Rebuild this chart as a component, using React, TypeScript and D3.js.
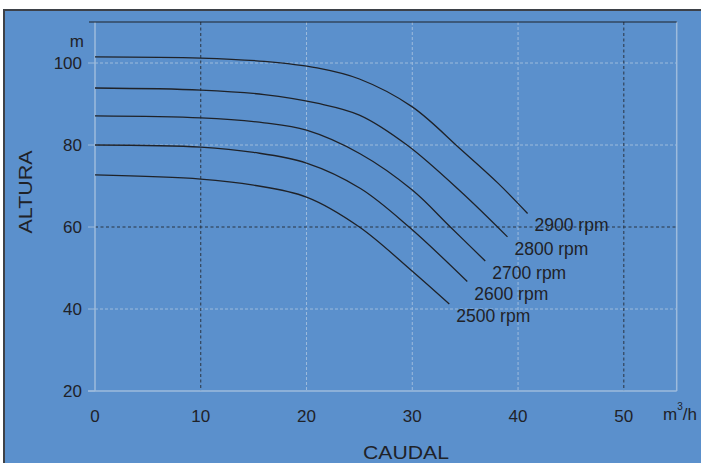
import React from "react";
import * as d3 from "d3";

const xTicks = [0, 10, 20, 30, 40, 50];
const yTicks = [20, 40, 60, 80, 100];
const darkX = [10, 50];
const darkY = [60];

const seriesNames = ["2900 rpm", "2800 rpm", "2700 rpm", "2600 rpm", "2500 rpm"];
const q2900 = [0, 10, 16, 21, 25, 30, 34.6, 38.1, 40.9];
const h2900 = [101.5, 101.2, 100.4, 98.8, 96.1, 89.3, 78.9, 70.7, 63.3];
const q2800 = [0, 10, 16, 21, 25, 29.5, 34.6, 39.0];
const h2800 = [93.9, 93.4, 92.3, 90.2, 87.3, 80, 68.6, 57.6];
const q2700 = [0, 10, 16, 20, 25.1, 30, 33.6, 36.9];
const h2700 = [87.1, 86.6, 85.4, 83.6, 77.8, 69, 60, 51.7];
const q2600 = [0, 10, 15, 20, 25.1, 29.7, 35.2];
const h2600 = [80, 79.5, 78.2, 75.6, 69.4, 60, 46.7];
const q2500 = [0, 10, 15, 20, 25, 30, 33.5];
const h2500 = [72.7, 71.7, 70.2, 67.3, 60, 49.2, 41.2];

const flows = [q2900, q2800, q2700, q2600, q2500];
const heads = [h2900, h2800, h2700, h2600, h2500];

const W = 701;
const H = 463;
const BG = "#5b90cc";
const LIGHT = "#9dbbdc";
const DARK = "#2b3442";
const INK = "#1f2228";
const FONT = "'Liberation Sans', Arial, sans-serif";

export default function App() {
  const x = d3.scaleLinear().domain([0, 55]).range([95, 676.7]);
  const y = d3.scaleLinear().domain([20, 110]).range([391, 22]);
  const line = d3
    .line<[number, number]>()
    .x((d) => x(d[0]))
    .y((d) => y(d[1]))
    .curve(d3.curveCatmullRom.alpha(0.5));

  return (
    <svg
      width={W}
      height={H}
      style={{ position: "absolute", left: 0, top: 0, display: "block" }}
      fontFamily={FONT}
    >
      <rect x={0} y={0} width={W} height={H} fill="#ffffff" />
      <rect x={4} y={10} width={W + 10} height={H + 10} fill={BG} stroke="#3d4148" strokeWidth={2} />

      {/* light grid */}
      {xTicks
        .filter((t) => t > 0 && !darkX.includes(t))
        .map((t) => (
          <line key={"gx" + t} x1={x(t)} x2={x(t)} y1={y(110)} y2={y(20)} stroke={LIGHT} strokeWidth={1} strokeDasharray="3,2" />
        ))}
      {yTicks
        .filter((t) => t > 20 && !darkY.includes(t))
        .map((t) => (
          <line key={"gy" + t} x1={x(0)} x2={x(55)} y1={y(t)} y2={y(t)} stroke={LIGHT} strokeWidth={1} strokeDasharray="3,2" />
        ))}
      {/* dark grid */}
      {darkX.map((t) => (
        <line key={"dx" + t} x1={x(t)} x2={x(t)} y1={y(110)} y2={y(20)} stroke={DARK} strokeWidth={1} strokeDasharray="3,2.5" />
      ))}
      {darkY.map((t) => (
        <line key={"dy" + t} x1={x(0)} x2={x(55)} y1={y(t)} y2={y(t)} stroke={DARK} strokeWidth={1} strokeDasharray="3,2.5" />
      ))}

      {/* axes frame */}
      <line x1={x(0)} x2={x(0)} y1={y(110)} y2={y(20)} stroke={LIGHT} strokeWidth={1.5} />
      <line x1={x(55)} x2={x(55)} y1={y(110)} y2={y(20)} stroke={LIGHT} strokeWidth={1.5} />
      <line x1={x(0) - 7} x2={x(55)} y1={y(20)} y2={y(20)} stroke={LIGHT} strokeWidth={1.5} />
      <line x1={x(0) - 6} x2={x(55)} y1={y(110)} y2={y(110)} stroke={INK} strokeWidth={1.2} />
      {yTicks.map((t) => (
        <line key={"ty" + t} x1={x(0) - 7} x2={x(0)} y1={y(t)} y2={y(t)} stroke={LIGHT} strokeWidth={1} />
      ))}

      {/* curves */}
      {flows.map((qs, i) => {
        const pts = qs.map((q, j) => [q, heads[i][j]] as [number, number]);
        return <path key={"c" + i} d={line(pts) || ""} fill="none" stroke={INK} strokeWidth={1.3} />;
      })}
      {flows.map((qs, i) => {
        const lq = qs[qs.length - 1];
        const lh = heads[i][heads[i].length - 1];
        return (
          <text key={"l" + i} x={x(lq) + 7} y={y(lh) + 18} fontSize={17.5} fill={INK}>
            {seriesNames[i]}
          </text>
        );
      })}

      {/* tick labels */}
      {yTicks.map((t) => (
        <text key={"yl" + t} x={82} y={y(t) + 6} fontSize={17} textAnchor="end" fill={INK}>
          {t}
        </text>
      ))}
      <text x={84} y={47} fontSize={17} textAnchor="end" fill={INK}>m</text>
      {xTicks.map((t) => (
        <text key={"xl" + t} x={x(t)} y={422} fontSize={17} textAnchor="middle" fill={INK}>
          {t}
        </text>
      ))}
      <text x={663} y={420} fontSize={17} fill={INK}>
        m<tspan dy={-10} fontSize={10}>3</tspan>
        <tspan dy={10}>/h</tspan>
      </text>

      {/* axis titles */}
      <text transform="translate(32,192) rotate(-90)" fontSize={18} textAnchor="middle" fill={INK} textLength={83} lengthAdjust="spacingAndGlyphs">
        ALTURA
      </text>
      <text x={406} y={459} fontSize={18} textAnchor="middle" fill={INK} textLength={86} lengthAdjust="spacingAndGlyphs">
        CAUDAL
      </text>
    </svg>
  );
}
